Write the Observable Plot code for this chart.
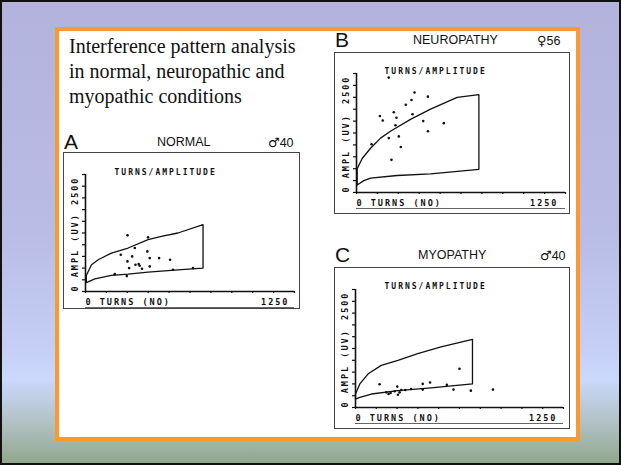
<!DOCTYPE html>
<html><head><meta charset="utf-8">
<script src="https://cdn.jsdelivr.net/npm/d3@7"></script>
<script src="https://cdn.jsdelivr.net/npm/@observablehq/plot@0.6"></script>
<style>
html,body{margin:0;padding:0;}
body{width:621px;height:465px;overflow:hidden;position:relative;font-family:"Liberation Sans",Arial,sans-serif;}
#slide{position:absolute;left:0;top:0;width:617px;height:461px;border:2px solid #111;
  background:linear-gradient(to bottom,#b3b3de 0%,#b9bce4 50%,#c5cff6 75%,#cad8fb 82%,#b2c2c6 91%,#91a78c 100%);}
#box{position:absolute;left:55px;top:27px;width:517px;height:406px;border:4px solid #f89a30;background:#fff;}
.abs{position:absolute;line-height:1;white-space:nowrap;color:#111;}
#title{position:absolute;left:69px;top:34px;font-family:"Liberation Serif","Times New Roman",serif;font-size:20px;line-height:25px;color:#111;}
.big{font-size:21px;}
.hdr{font-size:12.5px;}
.sym{font-family:"DejaVu Sans",sans-serif;font-size:13px;}
.panel{position:absolute;border:1px solid #444;background:#fff;}
.panel svg{display:block;}
.panel svg text{font-family:"DejaVu Sans Mono",monospace;font-weight:bold;letter-spacing:2px;}
</style></head>
<body>
<div id="slide"></div>
<div id="box"></div>
<div id="title">Interference pattern analysis<br>in normal, neuropathic and<br>myopathic conditions</div>

<div class="abs big" style="left:64px;top:131px">A</div>
<div class="abs hdr" style="left:157px;top:136px">NORMAL</div>
<div class="abs hdr" style="left:268px;top:136px"><span class="sym">♂</span>40</div>
<div class="abs big" style="left:335px;top:29px">B</div>
<div class="abs hdr" style="left:413px;top:34px">NEUROPATHY</div>
<div class="abs hdr" style="left:537px;top:34px"><span class="sym">♀</span>56</div>
<div class="abs big" style="left:335px;top:244px">C</div>
<div class="abs hdr" style="left:418px;top:249px">MYOPATHY</div>
<div class="abs hdr" style="left:540px;top:249px"><span class="sym">♂</span>40</div>

<div id="pA" class="panel" style="left:63px;top:152px"></div>
<div id="pB" class="panel" style="left:334px;top:52px"></div>
<div id="pC" class="panel" style="left:334px;top:267px"></div>

<script>
// Axis ticks
const yTicks = [0,250,500,750,1000,1250,1500,1750,2000,2250,2500];
const xTicks = [0,125,250,375,500,625,750,875,1000,1125,1250];

// Panel A: NORMAL (male, 40)
const aUpperTurns = [5,36,76,155,255,374,454,553,703];
const aUpperAmpl  = [340,571,679,821,929,1107,1179,1250,1429];
const aLowerTurns = [5,56,155,255,374,553,703];
const aLowerAmpl  = [190,271,343,371,414,464,500];
const aDotTurns = [251,374,295,211,370,279,251,384,440,506,299,318,261,324,338,384,175,247,523,643];
const aDotAmpl  = [1200,1157,929,786,857,750,643,714,714,679,571,586,500,550,486,536,371,329,464,500];

// Panel B: NEUROPATHY (female, 56)
const bUpperTurns = [4,34,84,144,203,323,443,602,732];
const bUpperAmpl  = [500,714,929,1143,1286,1536,1750,2000,2057];
const bLowerTurns = [4,44,84,243,443,732];
const bLowerAmpl  = [157,250,300,357,393,486];
const bDotTurns = [193,347,427,329,295,223,140,157,335,239,399,522,233,427,193,253,90,265,209];
const bDotAmpl  = [2414,2100,2014,1943,1843,1686,1607,1514,1643,1571,1500,1457,1414,1286,1143,1179,1014,957,686];

// Panel C: MYOPATHY (male, 40)
const cUpperTurns = [0,26,76,155,255,374,514,703];
const cUpperAmpl  = [286,500,714,893,1000,1143,1286,1443];
const cLowerTurns = [0,26,96,255,454,703];
const cLowerAmpl  = [179,214,286,357,414,500];
const cDotTurns = [145,185,199,211,235,251,255,265,275,299,334,404,404,448,549,589,625,693,826];
const cDotAmpl  = [493,321,286,307,343,443,271,321,371,371,393,500,379,529,479,379,821,357,379];

function panel(o) {
  const env = [];
  o.lx.forEach((x,i)=>env.push({t:x,a:o.ly[i]}));
  for (let i=o.ux.length-1;i>=0;i--) env.push({t:o.ux[i],a:o.uy[i]});
  env.push(env[0]);
  const dots = o.dx.map((x,i)=>({t:x,a:o.dy[i]}));
  return Plot.plot({
    width:o.w, height:o.h,
    marginLeft:o.ml, marginTop:o.mt, marginBottom:o.mb, marginRight:o.mr,
    x:{domain:[0,1250]}, y:{domain:[0,2500]},
    style:{background:"#fff", color:"#111", fontSize:"8px"},
    marks:[
      Plot.axisY({ticks:yTicks, tickSize:3, tickFormat:()=>"", label:null, strokeWidth:1.2}),
      Plot.axisX({ticks:xTicks, tickSize:2, tickFormat:()=>"", label:null, strokeWidth:1.2}),
      Plot.ruleX([0],{y1:0,y2:2500,strokeWidth:1.6}),
      Plot.ruleY([0],{x1:0,x2:1250,strokeWidth:1.6}),
      Plot.ruleY([0],{x1:0,x2:1250,dy:16,stroke:"#666",strokeWidth:1}),
      Plot.line(env,{x:"t",y:"a",stroke:"#111",strokeWidth:1.3}),
      Plot.dot(dots,{x:"t",y:"a",r:1.3,fill:"#111",stroke:"none"}),
      Plot.text([o.title],{frameAnchor:"top-left",textAnchor:"start",dx:o.tdx,dy:o.tdy,fontSize:8}),
      Plot.text(["0 AMPL (UV)"],{x:0,y:0,rotate:-90,textAnchor:"start",dx:-10,fontSize:8.5}),
      Plot.text(["2500"],{x:0,y:2500,rotate:-90,textAnchor:"end",dx:-10,dy:2,fontSize:8.5}),
      Plot.text(["0 TURNS (NO)"],{x:0,y:0,textAnchor:"start",dy:11,fontSize:8.5}),
      Plot.text(["1250"],{x:1250,y:0,textAnchor:"end",dy:11,dx:o.edx,fontSize:8.5})
    ]
  });
}

document.getElementById("pA").append(panel({
  ux:aUpperTurns, uy:aUpperAmpl, lx:aLowerTurns, ly:aLowerAmpl, dx:aDotTurns, dy:aDotAmpl,
  title:"TURNS/AMPLITUDE", w:235, h:155, ml:21, mt:21, mb:17, mr:5, tdx:29, tdy:-5, edx:-5
}));
document.getElementById("pB").append(panel({
  ux:bUpperTurns, uy:bUpperAmpl, lx:bLowerTurns, ly:bLowerAmpl, dx:bDotTurns, dy:bDotAmpl,
  title:"TURNS/AMPLITUDE", w:234, h:160, ml:21, mt:20, mb:21, mr:4, tdx:28, tdy:-5, edx:-7
}));
document.getElementById("pC").append(panel({
  ux:cUpperTurns, uy:cUpperAmpl, lx:cLowerTurns, ly:cLowerAmpl, dx:cDotTurns, dy:cDotAmpl,
  title:"TURNS/AMPLITUDE", w:234, h:160, ml:20, mt:21, mb:21, mr:6, tdx:29, tdy:-6, edx:-6
}));
</script>
</body></html>
